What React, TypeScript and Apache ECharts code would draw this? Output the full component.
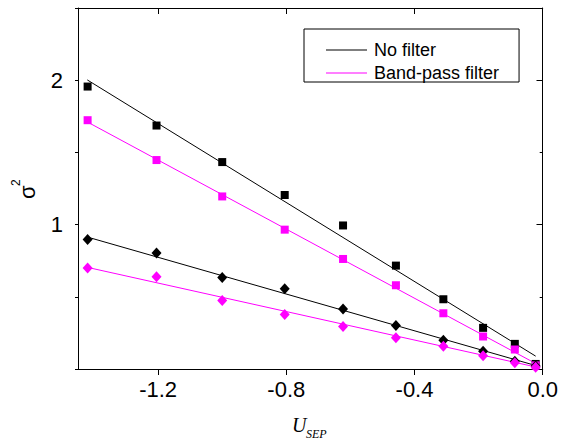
import React, { useEffect, useRef } from 'react';
import * as echarts from 'echarts';

// U_SEP positions (shared by all four series)
const xValues = [-1.42, -1.205, -1.0, -0.805, -0.623, -0.458, -0.31, -0.186, -0.087, -0.022];
// sigma^2 values
const noFilterSquares = [1.956, 1.686, 1.433, 1.205, 0.994, 0.716, 0.483, 0.285, 0.174, 0.035];
const bandPassSquares = [1.723, 1.447, 1.195, 0.965, 0.762, 0.58, 0.386, 0.225, 0.135, 0.025];
const noFilterDiamonds = [0.896, 0.803, 0.633, 0.555, 0.416, 0.301, 0.199, 0.123, 0.054, 0.02];
const bandPassDiamonds = [0.7, 0.638, 0.474, 0.377, 0.294, 0.216, 0.158, 0.091, 0.043, 0.012];
// linear fit end points [x, y]
const fitNoFilterSquares = [[-1.421, 2.002], [-0.022, 0.089]];
const fitBandPassSquares = [[-1.421, 1.711], [-0.022, 0.038]];
const fitNoFilterDiamonds = [[-1.421, 0.914], [-0.022, 0.024]];
const fitBandPassDiamonds = [[-1.421, 0.704], [-0.022, 0.014]];
// axes
const xTicks = [-1.2, -0.8, -0.4, 0];
const yMajorTicks = [1, 2];
const legendNames = ['No filter', 'Band-pass filter'];
const xTitle = ['U', 'SEP'];
const yTitle = ['σ', '2'];

const BLACK = '#000000';
const MAGENTA = '#ff00ff';
const SANS = 'Liberation Sans';
const SERIF = 'Liberation Serif';

const zip = (ys: number[]) => xValues.map((x, i) => [x, ys[i]]);

export default function App() {
  const ref = useRef<HTMLDivElement>(null);
  useEffect(() => {
    document.body.style.margin = '0';
    const chart = echarts.init(ref.current!, null, { renderer: 'svg' });
    const axisLine = { show: true, onZero: false, lineStyle: { color: BLACK, width: 1 } };
    const baseY = { type: 'value', min: 0, max: 2.5, splitLine: { show: false } };
    const baseX = { type: 'value', min: -1.45, max: 0, splitLine: { show: false } };
    const line = (name: string, data: number[][], color: string) => ({
      type: 'line', name, data, symbol: 'none', silent: true, z: 2,
      lineStyle: { color, width: 1 }, itemStyle: { color },
    });
    const scatter = (name: string, ys: number[], color: string, symbol: string, size: any) => ({
      type: 'scatter', name, data: zip(ys), symbol, symbolSize: size, silent: true, z: 3,
      itemStyle: { color, opacity: 1 },
    });
    const txt = (text: string, x: number, y: number, fontSize: number, family: string, italic: boolean, rotation = 0) => ({
      type: 'text', x, y, rotation, silent: true,
      style: {
        text, fill: BLACK, fontSize, fontFamily: family, fontStyle: italic ? 'italic' : 'normal',
        align: 'left', verticalAlign: 'middle',
      },
    });
    chart.setOption({
      animation: false,
      backgroundColor: '#ffffff',
      grid: { left: 78, right: 18, top: 8, bottom: 71, containLabel: false },
      legend: {
        data: legendNames,
        orient: 'vertical',
        left: 304,
        top: 29,
        padding: [12, 20, 0, 22],
        itemGap: 5,
        itemWidth: 41,
        itemHeight: 1,
        icon: 'rect',
        borderColor: BLACK,
        borderWidth: 1,
        borderRadius: 0,
        selectedMode: false,
        textStyle: { fontSize: 18, fontFamily: SANS, color: BLACK, lineHeight: 18, padding: [0, 0, 0, 2] },
      },
      graphic: [
        txt(xTitle[0], 292, 425, 20, SERIF, true),
        txt(xTitle[1], 306, 434.3, 12, SERIF, true),
        txt(yTitle[0], 27.4, 199, 22, SANS, false, Math.PI / 2),
        txt(yTitle[1], 15.8, 186, 12, SANS, false, Math.PI / 2),
      ],
      xAxis: [
        {
          ...baseX,
          position: 'bottom',
          axisLine,
          axisTick: { show: true, inside: false, length: 6, customValues: xTicks, lineStyle: { color: BLACK } },
          axisLabel: {
            customValues: xTicks,
            formatter: (v: number) => v.toFixed(1),
            fontSize: 22, fontFamily: SANS, color: BLACK, margin: 9,
          },
        },
        {
          ...baseX,
          position: 'top',
          axisLine,
          axisTick: { show: true, inside: true, length: 6, customValues: xTicks, lineStyle: { color: BLACK } },
          axisLabel: { show: false },
        },
      ],
      yAxis: [
        {
          ...baseY,
          position: 'left',
          interval: 0.5,
          axisLine,
          axisTick: { show: true, inside: false, length: 3, lineStyle: { color: BLACK } },
          axisLabel: {
            formatter: (v: number) => (yMajorTicks.indexOf(v) >= 0 ? String(v) : ''),
            fontSize: 22, fontFamily: SANS, color: BLACK, margin: 15,
          },
        },
        {
          ...baseY,
          position: 'right',
          interval: 0.5,
          axisLine,
          axisTick: { show: true, inside: true, length: 3, lineStyle: { color: BLACK } },
          axisLabel: { show: false },
        },
        {
          ...baseY,
          position: 'left',
          axisLine: { show: false },
          axisTick: { show: true, inside: false, length: 6, customValues: yMajorTicks, lineStyle: { color: BLACK } },
          axisLabel: { show: false },
        },
        {
          ...baseY,
          position: 'right',
          axisLine: { show: false },
          axisTick: { show: true, inside: true, length: 6, customValues: yMajorTicks, lineStyle: { color: BLACK } },
          axisLabel: { show: false },
        },
      ],
      series: [
        line(legendNames[0], fitNoFilterSquares, BLACK),
        line(legendNames[0], fitNoFilterDiamonds, BLACK),
        line(legendNames[1], fitBandPassSquares, MAGENTA),
        line(legendNames[1], fitBandPassDiamonds, MAGENTA),
        scatter('No filter squares', noFilterSquares, BLACK, 'rect', 8),
        scatter('Band-pass squares', bandPassSquares, MAGENTA, 'rect', 8),
        scatter('No filter diamonds', noFilterDiamonds, BLACK, 'diamond', [10, 11]),
        scatter('Band-pass diamonds', bandPassDiamonds, MAGENTA, 'diamond', [10, 11]),
      ],
    });
    return () => chart.dispose();
  }, []);
  return <div ref={ref} style={{ position: 'absolute', left: 0, top: 0, width: 561, height: 440 }} />;
}
